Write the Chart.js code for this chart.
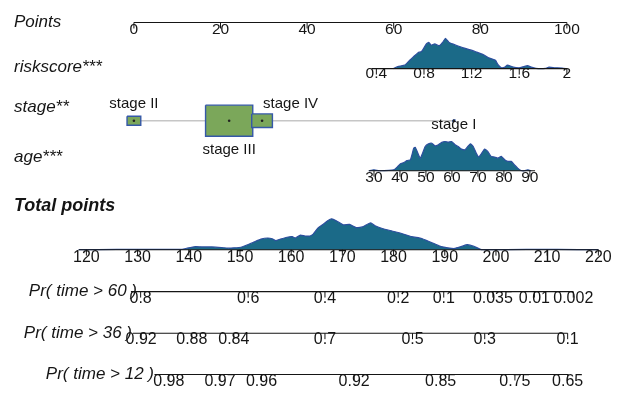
<!DOCTYPE html>
<html>
<head>
<meta charset="utf-8">
<script src="https://cdn.jsdelivr.net/npm/chart.js@4/dist/chart.umd.min.js"></script>
<style>
  html, body { margin: 0; padding: 0; background: #fff; }
  #wrap { width: 626px; height: 399px; }
</style>
</head>
<body>
<div id="wrap"><canvas id="nomo" width="626" height="399"></canvas></div>
<script>
// ---- nomogram data ----
const pointTicks = [0, 20, 40, 60, 80, 100];

const riskTicks = [0.4, 0.8, 1.2, 1.6, 2];
const riskRange = [0.36, 2];
const riskDensX = [0.54, 0.58, 0.64, 0.68, 0.71, 0.75, 0.78, 0.82, 0.84, 0.86, 0.89, 0.93, 0.96, 0.98, 1.01, 1.04, 1.08, 1.13, 1.19, 1.24, 1.30, 1.35, 1.40, 1.42, 1.45, 1.48, 1.50, 1.55, 1.60, 1.63, 1.67, 1.70, 1.74, 1.82, 1.85, 1.90, 1.96, 2.0];
const riskDensY = [0, 0.07, 0.12, 0.28, 0.39, 0.53, 0.57, 0.82, 0.87, 0.78, 0.82, 0.76, 0.89, 1.0, 0.87, 0.82, 0.76, 0.69, 0.62, 0.55, 0.46, 0.35, 0.28, 0.14, 0.03, 0.05, 0.12, 0.05, 0.03, 0.06, 0.1, 0.05, 0.01, 0.01, 0.05, 0.03, 0.02, 0];

const stageNames = ['stage II', 'stage III', 'stage IV', 'stage I'];
const stagePoints = [0, 22, 29.6, 73.9];
const stageShare = [0.066, 0.78, 0.15, 0.0014];

const ageTicks = [30, 40, 50, 60, 70, 80, 90];
const ageRange = [28, 92];
const ageDensX = [28, 30, 32, 35.7, 37.6, 38.9, 40.2, 41.5, 42.7, 44.0, 44.6, 45.3, 45.9, 46.9, 47.8, 48.7, 49.7, 51.0, 52.3, 53.5, 54.8, 56.1, 57.3, 58.6, 59.9, 61.2, 62.4, 63.7, 65.0, 66.3, 67.1, 68.2, 69.4, 70.3, 71.3, 72.6, 73.8, 75.1, 76.4, 77.7, 79.0, 80.3, 81.5, 82.8, 84.1, 85.3, 86.6, 87.9, 89.2, 90.5];
const ageDensY = [0, 0.03, 0, 0.01, 0.03, 0.125, 0.24, 0.28, 0.35, 0.375, 0.545, 0.77, 0.8, 0.6, 0.43, 0.6, 0.83, 0.92, 0.94, 0.85, 0.89, 0.97, 1.0, 0.98, 1.0, 0.89, 0.83, 0.74, 0.72, 0.85, 0.92, 0.83, 0.6, 0.47, 0.58, 0.74, 0.66, 0.49, 0.47, 0.43, 0.49, 0.375, 0.32, 0.32, 0.2, 0.09, 0.01, 0, 0.03, 0];

const totalTicks = [120, 130, 140, 150, 160, 170, 180, 190, 200, 210, 220];
const totalRange = [118.5, 220];
const totDensX = [118.5, 126, 135, 138.7, 139.7, 141.3, 142.5, 144.5, 146.4, 147.7, 148.9, 150.2, 151.5, 152.8, 154.1, 155.4, 156.3, 157.0, 157.9, 159.2, 160.2, 160.8, 161.8, 162.7, 163.7, 164.3, 165.3, 166.2, 167.2, 167.9, 168.8, 170.1, 171.4, 172.7, 173.9, 175.5, 176.5, 177.8, 179.7, 181.6, 183.5, 185.5, 186.8, 188.0, 189.3, 190.6, 191.9, 193.2, 194.4, 195.7, 197.0, 198.3, 206, 212, 220];
const totDensY = [0, 0.01, 0.01, 0.01, 0.05, 0.10, 0.09, 0.09, 0.07, 0.05, 0.06, 0.08, 0.16, 0.25, 0.34, 0.375, 0.35, 0.29, 0.34, 0.40, 0.42, 0.375, 0.47, 0.44, 0.44, 0.5, 0.71, 0.81, 0.94, 0.99, 0.93, 0.80, 0.81, 0.71, 0.73, 0.86, 0.76, 0.68, 0.60, 0.52, 0.42, 0.36, 0.27, 0.19, 0.10, 0.06, 0.04, 0.10, 0.16, 0.11, 0.01, 0, 0.01, 0.01, 0];

const pr60Labels = ['0.8', '0.6', '0.4', '0.2', '0.1', '0.035', '0.01', '0.002'];
const pr60At = [130.6, 151.6, 166.6, 180.9, 189.8, 199.4, 207.5, 215.1];
const pr60Range = [128.7, 215.1];
const pr36Labels = ['0.92', '0.88', '0.84', '0.7', '0.5', '0.3', '0.1'];
const pr36At = [130.7, 140.6, 148.8, 166.6, 183.7, 197.8, 214.0];
const pr36Range = [129.1, 214.0];
const pr12Labels = ['0.98', '0.97', '0.96', '0.92', '0.85', '0.75', '0.65'];
const pr12At = [136.1, 146.1, 154.2, 172.3, 189.2, 203.7, 214.0];
const pr12Range = [133.3, 214.2];

// model scores -> points
const riskToPts = v => 100 - (2 - v) * 27.5;
const ageToPts = v => 55.45 + (v - 30) * 0.6;

// ---- layout ----
const W = 626, H = 399;
const PT0 = 131, PT_PX = 4.4;       // points axis: 0 at 131px, 4.4px per point
const TP0 = 82.7, TP_PX = 5.203;    // total points: 120 at 82.7px
const ROW = { points: 18, risk: 65.3, stage: 118.7, age: 170, total: 251, pr60: 294, pr36: 336.7, pr12: 379 };
const DENS_H = { risk: 31, age: 30, total: 32 };
const BOX_K = 54.3;                 // box width px = BOX_K * sqrt(share)

const INK = '#151515';
const DENS_FILL = '#1b6a88';
const DENS_LINE = '#2d4f9e';
const BOX_FILL = '#7ba75a';
const BOX_LINE = '#3558a8';
const SANS = '"Liberation Sans", Arial, sans-serif';

function axisLine(id, xs, y) {
  return { data: xs.map(x => ({ x, y })), xAxisID: id, borderColor: INK, borderWidth: 1.1, pointRadius: 0, order: 8 };
}
function tickMarks(id, xs, y) {
  return { data: xs.map(x => ({ x, y: y + 3 })), xAxisID: id, showLine: false, pointStyle: 'line', pointRotation: 90,
           pointRadius: 3, pointBorderColor: INK, pointBorderWidth: 1, order: 8 };
}
function density(id, xs, ds, base, h) {
  return { data: xs.map((x, i) => ({ x, y: base - ds[i] * h })), xAxisID: id, borderColor: DENS_LINE, borderWidth: 1.2,
           backgroundColor: DENS_FILL, fill: { value: base }, pointRadius: 0, tension: 0.15, order: 10 };
}
function stageBox(i) {
  const w = BOX_K * Math.sqrt(stageShare[i]);
  const hw = w / 2 / PT_PX, hh = w / 1.5 / 2;
  const c = stagePoints[i], y = ROW.stage;
  return { data: [{ x: c - hw, y: y - hh }, { x: c + hw, y: y - hh }, { x: c + hw, y: y + hh }, { x: c - hw, y: y + hh }, { x: c - hw, y: y - hh }],
           xAxisID: 'x', borderColor: BOX_LINE, borderWidth: 1.4, backgroundColor: BOX_FILL, fill: 'shape',
           pointRadius: 0, tension: 0, order: i === 2 ? 4 : 5 };
}

const datasets = [
  axisLine('x', [0, 100], ROW.points),
  tickMarks('x', pointTicks, ROW.points),
  density('x', riskDensX.map(riskToPts), riskDensY, ROW.risk, DENS_H.risk),
  axisLine('x', riskRange.map(riskToPts), ROW.risk),
  tickMarks('x', riskTicks.map(riskToPts), ROW.risk),
  { data: [stagePoints[0], stagePoints[3]].map(x => ({ x, y: ROW.stage })), xAxisID: 'x', borderColor: '#c6c6c6',
    borderWidth: 1.6, pointRadius: 0, order: 7 },
  ...stageNames.map((_, i) => stageBox(i)),
  { data: stagePoints.map(x => ({ x, y: ROW.stage })), xAxisID: 'x', showLine: false, pointRadius: 1.3,
    pointBackgroundColor: '#222', pointBorderWidth: 0, order: 1 },
  density('x', ageDensX.map(ageToPts), ageDensY, ROW.age, DENS_H.age),
  axisLine('x', ageRange.map(ageToPts), ROW.age),
  tickMarks('x', ageTicks.map(ageToPts), ROW.age),
  density('xt', totDensX, totDensY, ROW.total, DENS_H.total),
  axisLine('xt', totalRange, ROW.total),
  tickMarks('xt', totalTicks, ROW.total),
  axisLine('xt', pr60Range, ROW.pr60),
  tickMarks('xt', pr60At, ROW.pr60),
  axisLine('xt', pr36Range, ROW.pr36),
  tickMarks('xt', pr36At, ROW.pr36),
  axisLine('xt', pr12Range, ROW.pr12),
  tickMarks('xt', pr12At, ROW.pr12)
];

// row titles, tick labels and stage names
const nomoText = {
  id: 'nomoText',
  afterDatasetsDraw(chart) {
    const ctx = chart.ctx;
    const sx = chart.scales.x, st = chart.scales.xt, sy = chart.scales.y;
    const put = (str, x, y, font, align) => {
      ctx.font = font;
      ctx.textAlign = align || 'center';
      ctx.textBaseline = 'alphabetic';
      ctx.fillStyle = INK;
      ctx.fillText(str, x, sy.getPixelForValue(y));
    };
    const small = '15.5px ' + SANS, big = '16px ' + SANS;
    const title = 'italic 17px ' + SANS;
    ctx.save();

    put('Points', 14, ROW.points + 5, title, 'left');
    pointTicks.forEach(v => put(String(v), sx.getPixelForValue(v), ROW.points + 11.5, small));

    put('riskscore***', 14, ROW.risk + 3, title, 'left');
    riskTicks.forEach(v => put(String(v), sx.getPixelForValue(riskToPts(v)), ROW.risk + 10, small));

    put('stage**', 14, ROW.stage - 9, title, 'left');
    const stageBase = [106, 153, 106, 127.5];
    stageNames.forEach((s, i) => {
      const x = sx.getPixelForValue(stagePoints[i]);
      if (i === 2) put(s, x + 1, stageBase[i], '15px ' + SANS, 'left');
      else put(s, x, stageBase[i], '15px ' + SANS);
    });

    put('age***', 14, ROW.age - 9, title, 'left');
    ageTicks.forEach(v => put(String(v), sx.getPixelForValue(ageToPts(v)), ROW.age + 12, small));

    put('Total points', 14, ROW.total - 40, 'italic bold 18px ' + SANS, 'left');
    totalTicks.forEach(v => put(String(v), st.getPixelForValue(v), ROW.total + 12.3, big));

    const prRows = [
      ['Pr( time > 60 )', ROW.pr60, pr60Labels, pr60At, 137],
      ['Pr( time > 36 )', ROW.pr36, pr36Labels, pr36At, 132],
      ['Pr( time > 12 )', ROW.pr12, pr12Labels, pr12At, 154]
    ];
    prRows.forEach(([name, y, labels, at, right]) => {
      put(name, right, y + 4.5, 'italic 17px ' + SANS, 'right');
      labels.forEach((s, i) => put(s, st.getPixelForValue(at[i]), y + 11.3, big));
    });
    ctx.restore();
  }
};

new Chart(document.getElementById('nomo'), {
  type: 'line',
  data: { datasets },
  options: {
    responsive: false,
    devicePixelRatio: 1,
    animation: false,
    events: [],
    layout: { padding: 0 },
    elements: { point: { radius: 0 }, line: { borderCapStyle: 'butt' } },
    plugins: { legend: { display: false }, tooltip: { enabled: false } },
    scales: {
      x: { type: 'linear', axis: 'x', display: false, min: -PT0 / PT_PX, max: (W - PT0) / PT_PX },
      xt: { type: 'linear', axis: 'x', display: false, min: 120 - TP0 / TP_PX, max: 120 + (W - TP0) / TP_PX },
      y: { type: 'linear', display: false, min: 0, max: H, reverse: true }
    }
  },
  plugins: [nomoText]
});
</script>
</body>
</html>
